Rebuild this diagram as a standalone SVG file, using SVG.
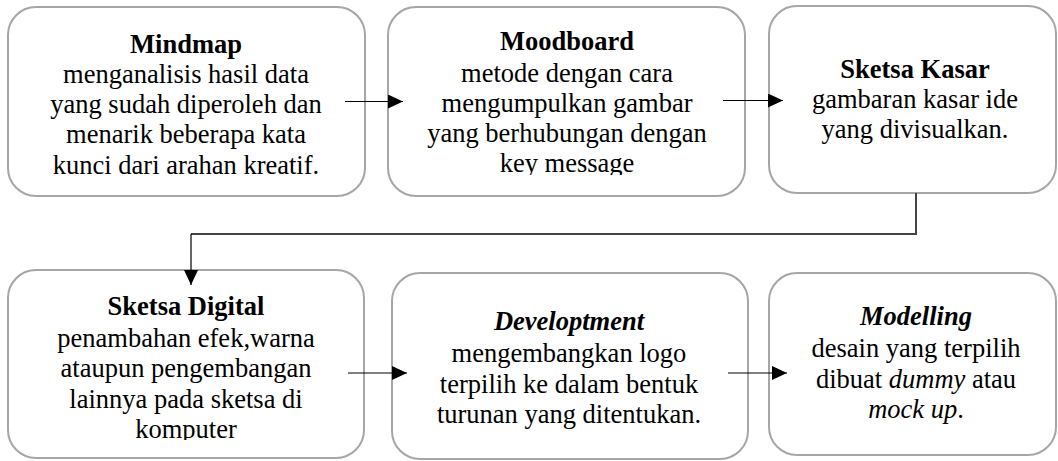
<svg xmlns="http://www.w3.org/2000/svg" width="1058" height="461" viewBox="0 0 1058 461">
<style>
.box{fill:#fff;stroke:#a6a6a6;stroke-width:2}
.ln{stroke:#000;stroke-width:1.2;fill:none}
.el{stroke:#444;stroke-width:2;fill:none}
</style>
<defs>
<marker id="ah" markerWidth="15" markerHeight="14" refX="15" refY="7" orient="auto" markerUnits="userSpaceOnUse">
<path d="M0,0 L15,7 L0,14 Z" fill="#000"/>
</marker>
<clipPath id="c2"><rect x="388" y="0" width="358" height="175"/></clipPath>
<clipPath id="c4"><rect x="8" y="260" width="358" height="180"/></clipPath>
</defs>
<g id="n1">
<rect class="box" x="8" y="7" width="357" height="189" rx="28"/>
<g font-family="Liberation Serif" font-size="26.5" text-anchor="middle" fill="#000">
<text x="186" y="53" font-weight="bold">Mindmap</text>
<text x="186" y="83">menganalisis hasil data</text>
<text x="186" y="113">yang sudah diperoleh dan</text>
<text x="186" y="143">menarik beberapa kata</text>
<text x="186" y="174">kunci dari arahan kreatif.</text>
</g>
</g>
<g id="n2">
<rect class="box" x="388" y="7" width="357" height="189" rx="28"/>
<g clip-path="url(#c2)" font-family="Liberation Serif" font-size="26.5" text-anchor="middle" fill="#000">
<text x="567" y="50" font-weight="bold">Moodboard</text>
<text x="567" y="82">metode dengan cara</text>
<text x="567" y="112">mengumpulkan gambar</text>
<text x="567" y="142">yang berhubungan dengan</text>
<text x="567" y="172">key message</text>
</g>
</g>
<g id="n3">
<rect class="box" x="769" y="6" width="287" height="187" rx="28"/>
<g font-family="Liberation Serif" font-size="26.5" text-anchor="middle" fill="#000">
<text x="915" y="78" font-weight="bold">Sketsa Kasar</text>
<text x="915" y="108">gambaran kasar ide</text>
<text x="915" y="138">yang divisualkan.</text>
</g>
</g>
<g id="n4">
<rect class="box" x="8" y="270" width="356" height="188" rx="28"/>
<g clip-path="url(#c4)" font-family="Liberation Serif" font-size="26.5" text-anchor="middle" fill="#000">
<text x="186" y="315" font-weight="bold">Sketsa Digital</text>
<text x="186" y="347">penambahan efek,warna</text>
<text x="186" y="377">ataupun pengembangan</text>
<text x="186" y="408">lainnya pada sketsa di</text>
<text x="186" y="438">komputer</text>
</g>
</g>
<g id="n5">
<rect class="box" x="392" y="273" width="356" height="186" rx="28"/>
<g font-family="Liberation Serif" font-size="26.5" text-anchor="middle" fill="#000">
<text x="569" y="330" font-weight="bold" font-style="italic">Developtment</text>
<text x="569" y="362">mengembangkan logo</text>
<text x="569" y="393">terpilih ke dalam bentuk</text>
<text x="569" y="423">turunan yang ditentukan.</text>
</g>
</g>
<g id="n6">
<rect class="box" x="769" y="273" width="287" height="182" rx="28"/>
<g font-family="Liberation Serif" font-size="26.5" text-anchor="middle" fill="#000">
<text x="916" y="325" font-weight="bold" font-style="italic">Modelling</text>
<text x="916" y="357">desain yang terpilih</text>
<text x="916" y="388">dibuat <tspan font-style="italic">dummy</tspan> atau</text>
<text x="916" y="418"><tspan font-style="italic">mock up</tspan>.</text>
</g>
</g>
<g id="connectors">
<line class="ln" x1="345" y1="101.5" x2="403" y2="101.5" marker-end="url(#ah)"/>
<line class="ln" x1="723" y1="100.5" x2="783" y2="100.5" marker-end="url(#ah)"/>
<polyline class="el" points="916,193 916,234 191,234"/>
<line class="ln" x1="191" y1="234" x2="191" y2="285" marker-end="url(#ah)"/>
<line class="ln" x1="348" y1="373" x2="407" y2="373" marker-end="url(#ah)"/>
<line class="ln" x1="728" y1="373" x2="787" y2="373" marker-end="url(#ah)"/>
</g>
</svg>
